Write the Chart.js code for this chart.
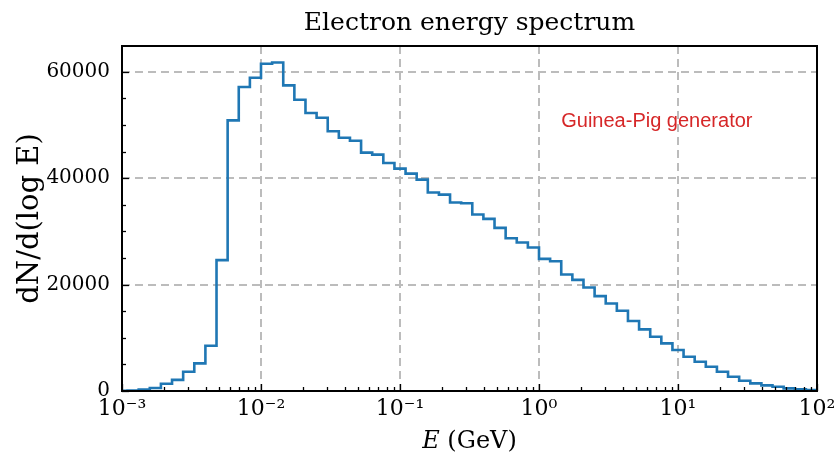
<!DOCTYPE html>
<html><head><meta charset="utf-8">
<script src="https://cdn.jsdelivr.net/npm/chart.js@4"></script>
<style>html,body{margin:0;padding:0;background:#fff}#wrap{width:834px;height:456px}</style>
</head><body><div id="wrap"><canvas id="c" width="834" height="456"></canvas></div>
<script>
const titleText = 'Electron energy spectrum';
const xLabelItalic = 'E';
const xLabelRest = ' (GeV)';
const yLabel = 'dN/d(log E)';
const annotation = 'Guinea-Pig generator';

// histogram bins: log10 edges
const firstEdgeLog = -3.04;
const binWidthLog = 0.08;
const counts = [20, 100, 250, 550, 1350, 2100, 3630, 5200, 8510, 24600, 50890, 57150, 58900,
  61530, 61780, 57460, 54770, 52270, 51390, 48830, 47630, 47050, 44820, 44440, 42880, 41820,
  40880, 39750, 37310, 36930, 35430, 35300, 33180, 32360, 30670, 28730, 27920, 26980, 24850,
  24410, 21900, 20900, 19470, 17840, 16460, 15090, 13150, 11580, 10200, 8950, 7700, 6450,
  5510, 4570, 3630, 2690, 1940, 1440, 1060, 810, 500, 310, 190];

const xTickExponents = [-3, -2, -1, 0, 1, 2];
const xTickLabels = ['10\u207B\u00B3', '10\u207B\u00B2', '10\u207B\u00B9', '10\u2070', '10\u00B9', '10\u00B2'];
const yTicks = [0, 20000, 40000, 60000];
const yMinorStep = 5000;
const xMin = 1e-3, xMax = 1e2, yMin = 0, yMax = 64870;

function edge(i) { return Math.pow(10, +(firstEdgeLog + i * binWidthLog).toFixed(4)); }
const points = [{x: edge(0), y: 0}];
counts.forEach((c, i) => points.push({x: edge(i), y: c}));
points.push({x: edge(counts.length), y: counts[counts.length - 1]});
points.push({x: edge(counts.length), y: 0});

const serif = 'DejaVu Serif';

const decor = {
  id: 'decor',
  afterDatasetsDraw(chart) {
    const {ctx, chartArea: a, scales: {x, y}} = chart;
    ctx.save();
    ctx.strokeStyle = '#000';
    ctx.lineWidth = 1.3;
    // inward ticks x
    for (let n = -3; n <= 2; n++) {
      for (let m = 1; m <= 9; m++) {
        const v = m * Math.pow(10, n);
        if (v > xMax * 1.0001) break;
        const px = Math.round(x.getPixelForValue(v)) + 0.5;
        const len = m === 1 ? 7 : 4;
        ctx.beginPath(); ctx.moveTo(px, a.bottom); ctx.lineTo(px, a.bottom - len); ctx.stroke();
      }
    }
    for (let v = 0; v <= yMax; v += yMinorStep) {
      const py = Math.round(y.getPixelForValue(v)) + 0.5;
      const len = (v % 20000 === 0) ? 7 : 4;
      ctx.beginPath(); ctx.moveTo(a.left, py); ctx.lineTo(a.left + len, py); ctx.stroke();
    }
    // frame
    ctx.lineWidth = 2;
    ctx.strokeRect(a.left, a.top, a.right - a.left, a.bottom - a.top);
    // title
    ctx.fillStyle = '#000';
    ctx.textAlign = 'center';
    ctx.textBaseline = 'alphabetic';
    ctx.font = '25px "' + serif + '"';
    ctx.fillText(titleText, (a.left + a.right) / 2, 30);
    // annotation
    ctx.fillStyle = '#d62728';
    ctx.font = '20px "Liberation Sans", Arial, sans-serif';
    ctx.textBaseline = 'middle';
    ctx.textAlign = 'left';
    ctx.fillText(annotation, a.left + 0.632 * (a.right - a.left), a.bottom - 0.781 * (a.bottom - a.top));
    // x axis title
    ctx.fillStyle = '#000';
    ctx.textBaseline = 'alphabetic';
    const fi = 'italic 24px "' + serif + '"';
    const fr = '24px "' + serif + '"';
    ctx.font = fi; const w1 = ctx.measureText(xLabelItalic).width;
    ctx.font = fr; const w2 = ctx.measureText(xLabelRest).width;
    const cx = (a.left + a.right) / 2;
    const sx = cx - (w1 + w2) / 2;
    const by = 448;
    ctx.font = fi; ctx.fillText(xLabelItalic, sx, by);
    ctx.font = fr; ctx.fillText(xLabelRest, sx + w1, by);
    ctx.restore();
  }
};

new Chart(document.getElementById('c'), {
  type: 'line',
  data: {
    datasets: [{
      data: points,
      borderColor: '#1f77b4',
      borderWidth: 2.6,
      pointRadius: 0,
      fill: false,
      stepped: 'before',
      tension: 0
    }]
  },
  options: {
    responsive: false,
    animation: false,
    events: [],
    layout: {padding: {left: 0, right: 17, top: 46, bottom: 0}},
    plugins: {
      legend: {display: false},
      tooltip: {enabled: false},
      title: {display: false}
    },
    scales: {
      x: {
        type: 'logarithmic', min: xMin, max: xMax,
        afterBuildTicks: s => { s.ticks = xTickExponents.map(e => ({value: Math.pow(10, e)})); },
        ticks: {
          callback: v => xTickLabels[xTickExponents.indexOf(Math.round(Math.log10(v)))],
          font: {family: serif, size: 22}, color: '#000', padding: 5,
          maxRotation: 0, autoSkip: false
        },
        grid: {color: '#bcbcbc', lineWidth: 2, drawTicks: false},
        border: {display: false, dash: [8, 5]},
        afterFit: s => { s.height = 65; s.paddingLeft = 0; s.paddingRight = 0; }
      },
      y: {
        type: 'linear', min: yMin, max: yMax,
        afterBuildTicks: s => { s.ticks = yTicks.map(v => ({value: v})); },
        ticks: {
          callback: v => String(v),
          font: {family: serif, size: 20}, color: '#000', padding: 12
        },
        grid: {color: '#bcbcbc', lineWidth: 2, drawTicks: false},
        border: {display: false, dash: [8, 5]},
        title: {display: true, text: yLabel, color: '#000', font: {family: serif, size: 29}, padding: {top: 13, bottom: 0}},
        afterFit: s => { s.width = 122; s.paddingTop = 0; s.paddingBottom = 0; }
      }
    }
  },
  plugins: [decor]
});
</script>
</body></html>
